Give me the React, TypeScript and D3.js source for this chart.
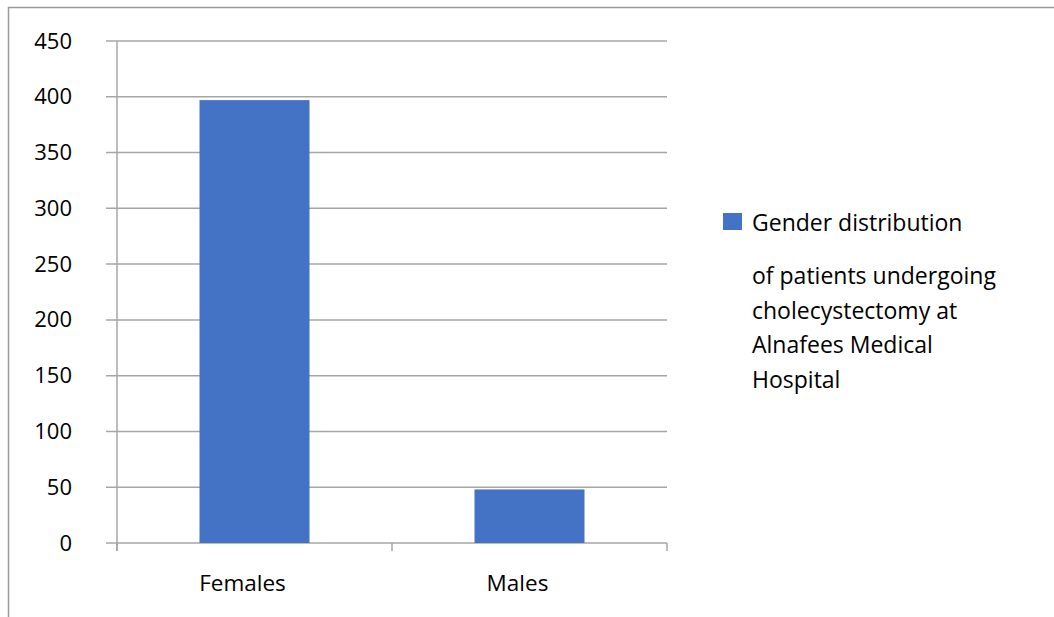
import React from "react";
import * as d3 from "d3";

const categories = ["Females", "Males"];
const values = [397, 48];
const yTicks = [0, 50, 100, 150, 200, 250, 300, 350, 400, 450];
const legendLines = [
  "Gender distribution",
  "of patients undergoing",
  "cholecystectomy at",
  "Alnafees Medical",
  "Hospital",
];

export default function App() {
  const W = 1054, H = 617;
  const left = 117, right = 667, top = 41, bottom = 543;
  const y = d3.scaleLinear().domain([0, 450]).range([bottom, top]);
  const x = d3.scaleBand().domain(categories).range([left, right]).paddingInner(0.6).paddingOuter(0.3);
  const outer = d3.scaleBand().domain(categories).range([left, right]);
  const font = "'Open Sans', sans-serif";
  const grid = "#a6a6a6";
  return (
    <svg width={W} height={H} style={{ position: "absolute", left: 0, top: 0, background: "#fff" }}>
      <rect x={8.5} y={7.5} width={W + 10} height={H + 10} fill="none" stroke="#9a9a9a" strokeWidth={1.5} />
      {yTicks.map((t) => (
        <g key={t}>
          <line x1={106} x2={right} y1={y(t)} y2={y(t)} stroke={grid} strokeWidth={1.5} />
          <text x={72} y={y(t) + 7.5} textAnchor="end" fontFamily={font} fontSize={22} fill="#000">{t}</text>
        </g>
      ))}
      <line x1={left} x2={left} y1={top} y2={551} stroke={grid} strokeWidth={1.5} />
      {[...categories.map((c) => outer(c)!), right].map((px, i) => (
        <line key={i} x1={px} x2={px} y1={bottom} y2={551} stroke={grid} strokeWidth={1.5} />
      ))}
      {categories.map((c, i) => (
        <rect key={c} x={x(c)!} y={y(values[i])} width={x.bandwidth()} height={y(0) - y(values[i])} fill="#4472C4" />
      ))}
      {categories.map((c) => (
        <text key={c} x={x(c)! + x.bandwidth() / 2 - 12} y={591} textAnchor="middle" fontFamily={font} fontSize={22.5} fill="#000">{c}</text>
      ))}
      <rect x={723} y={213} width={19} height={17} fill="#4472C4" />
      {legendLines.map((l, i) => (
        <text key={i} x={752} y={i === 0 ? 231 : 284 + (i - 1) * 34.7} fontFamily={font} fontSize={23} fill="#000">{l}</text>
      ))}
    </svg>
  );
}
